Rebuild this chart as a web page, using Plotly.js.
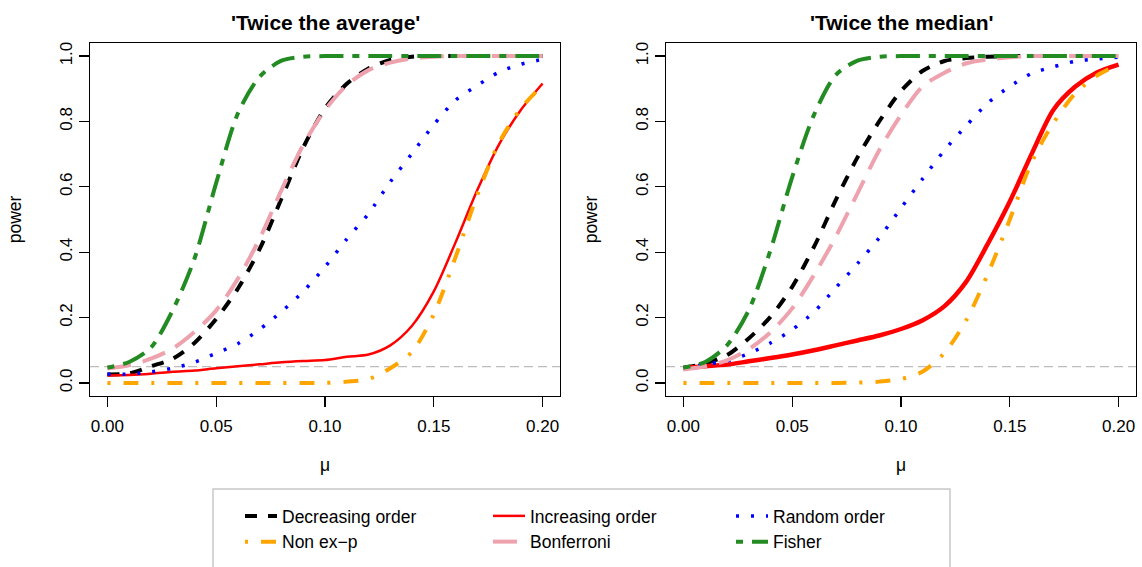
<!DOCTYPE html>
<html>
<head>
<meta charset="utf-8">
<script src="https://cdn.plot.ly/plotly-3.0.1.min.js"></script>
<style>html,body{margin:0;padding:0;background:#fff;}#chart{width:1142px;height:567px;}</style>
</head>
<body>
<div id="chart"></div>
<script>
// ---------- data ----------
const mu = [0, 0.01, 0.02, 0.03, 0.04, 0.05, 0.06, 0.07, 0.08, 0.09, 0.10,
            0.11, 0.12, 0.13, 0.14, 0.15, 0.16, 0.17, 0.18, 0.19, 0.20];

const panelTitles = ["'Twice the average'", "'Twice the median'"];
const seriesNames = ["Decreasing order", "Increasing order", "Random order", "Non ex\u2212p", "Bonferroni", "Fisher"];
const alphaLevel = 0.05;
const xTickVals = [0, 0.05, 0.10, 0.15, 0.20];
const yTickVals = [0, 0.2, 0.4, 0.6, 0.8, 1.0];

// 'Twice the average' panel
const avgDecreasing = [0.026, 0.029, 0.051, 0.074, 0.122, 0.196, 0.289, 0.41, 0.564, 0.72, 0.84, 0.915, 0.962, 0.988, 0.998, 1, 1, 1, 1, 1, 1];
const avgIncreasing = [0.023, 0.024, 0.028, 0.034, 0.038, 0.045, 0.051, 0.057, 0.063, 0.067, 0.07, 0.08, 0.087, 0.115, 0.175, 0.28, 0.43, 0.59, 0.73, 0.835, 0.916];
const avgRandom     = [0.027, 0.027, 0.034, 0.045, 0.063, 0.091, 0.12, 0.164, 0.218, 0.28, 0.355, 0.44, 0.518, 0.615, 0.702, 0.79, 0.865, 0.91, 0.951, 0.975, 0.99];
const avgNonExp     = [0, 0, 0, 0, 0, 0, 0, 0, 0, 0, 0, 0.004, 0.012, 0.045, 0.095, 0.21, 0.385, 0.575, 0.735, 0.84, 0.911];
const avgBonferroni = [0.044, 0.054, 0.074, 0.105, 0.156, 0.222, 0.319, 0.442, 0.59, 0.728, 0.835, 0.911, 0.957, 0.98, 0.993, 0.998, 1, 1, 1, 1, 1];
const avgFisher     = [0.047, 0.064, 0.108, 0.222, 0.38, 0.612, 0.825, 0.937, 0.986, 0.998, 1, 1, 1, 1, 1, 1, 1, 1, 1, 1, 1];

// 'Twice the median' panel
const medDecreasing = [0.046, 0.059, 0.085, 0.136, 0.202, 0.294, 0.416, 0.559, 0.69, 0.80, 0.893, 0.955, 0.985, 0.994, 0.998, 1, 1, 1, 1, 1, 1];
const medIncreasing = [0.046, 0.051, 0.056, 0.066, 0.076, 0.087, 0.1, 0.115, 0.13, 0.145, 0.165, 0.192, 0.235, 0.31, 0.427, 0.555, 0.70, 0.835, 0.906, 0.95, 0.974];
const medRandom     = [0.044, 0.057, 0.067, 0.09, 0.122, 0.163, 0.217, 0.291, 0.365, 0.444, 0.535, 0.625, 0.712, 0.787, 0.857, 0.907, 0.947, 0.967, 0.984, 0.991, 0.997];
const medNonExp     = [0, 0, 0, 0, 0, 0, 0, 0, 0.001, 0.004, 0.012, 0.035, 0.092, 0.192, 0.335, 0.50, 0.675, 0.795, 0.885, 0.94, 0.974];
const medBonferroni = [0.041, 0.051, 0.069, 0.103, 0.155, 0.228, 0.33, 0.447, 0.58, 0.712, 0.82, 0.908, 0.949, 0.978, 0.99, 0.996, 1, 1, 1, 1, 1];
const medFisher     = [0.047, 0.064, 0.115, 0.222, 0.406, 0.63, 0.82, 0.942, 0.986, 0.998, 1, 1, 1, 1, 1, 1, 1, 1, 1, 1, 1];

// ---------- styles ----------
const FONT = 'Liberation Sans, Arial, Helvetica, sans-serif';
const styles = [
  {color: '#000000', dash: '12px,11px', width: 4, legend: 'legend'},
  {color: '#ff0000', dash: 'solid', width: 2.5, legend: 'legend2'},
  {color: '#0000ff', dash: '3px,12px', width: 3.5, legend: 'legend3'},
  {color: '#ffa500', dash: '3px,13px,15px,13px', width: 4, legend: 'legend'},
  {color: '#eea2ad', dash: '24px,12px', width: 4, legend: 'legend2'},
  {color: '#228b22', dash: '7px,9px,24px,9px', width: 4, legend: 'legend3'}
];

const panels = [
  {xa: 'x', ya: 'y', series: [avgDecreasing, avgIncreasing, avgRandom, avgNonExp, avgBonferroni, avgFisher], showlegend: true, redWidth: 2.5},
  {xa: 'x2', ya: 'y2', series: [medDecreasing, medIncreasing, medRandom, medNonExp, medBonferroni, medFisher], showlegend: false, redWidth: 4.5}
];

const traces = [];
panels.forEach(p => {
  p.series.forEach((vals, i) => {
    const st = styles[i];
    traces.push({
      type: 'scatter', mode: 'lines',
      x: mu, y: vals,
      xaxis: p.xa, yaxis: p.ya,
      name: seriesNames[i],
      legend: st.legend,
      showlegend: p.showlegend,
      line: {color: st.color, dash: st.dash, width: i === 1 ? p.redWidth : st.width, shape: 'spline', smoothing: 0.8},
      hoverinfo: 'x+y+name'
    });
  });
});

const W = 1142, H = 567;
const px = v => v / W;
const py = v => 1 - v / H;

function xAxis(domain) {
  return {
    domain: domain, range: [-0.008, 0.208],
    tickvals: xTickVals, tickformat: '.2f',
    ticks: 'outside', ticklen: 10, tickwidth: 1.2, tickcolor: '#000',
    ticklabelstandoff: 4,
    showline: true, mirror: true, linecolor: '#000', linewidth: 1.2,
    showgrid: false, zeroline: false,
    tickfont: {family: FONT, size: 17, color: '#000'},
    title: {text: '\u03bc', font: {family: FONT, size: 17.5, color: '#000'}, standoff: 24}
  };
}
function yAxis(anchor) {
  return {
    domain: [py(396), py(43)], range: [-0.04, 1.04], anchor: anchor,
    tickvals: yTickVals, tickformat: '.1f', tickangle: -90,
    ticks: 'outside', ticklen: 10, tickwidth: 1.2, tickcolor: '#000',
    showline: true, mirror: true, linecolor: '#000', linewidth: 1.2,
    showgrid: false, zeroline: false,
    tickfont: {family: FONT, size: 17, color: '#000'},
    title: {text: 'power', font: {family: FONT, size: 17.5, color: '#000'}, standoff: 30}
  };
}

const legendBase = {
  orientation: 'v', xanchor: 'left', yanchor: 'top',
  y: py(498), bgcolor: 'rgba(0,0,0,0)', borderwidth: 0,
  font: {family: FONT, size: 17.5, color: '#000'}, itemwidth: 32
};

const layout = {
  width: W, height: H,
  margin: {l: 0, r: 0, t: 0, b: 0},
  paper_bgcolor: '#fff', plot_bgcolor: '#fff',
  font: {family: FONT, color: '#000'},
  xaxis: Object.assign(xAxis([px(90), px(560)]), {anchor: 'y'}),
  yaxis: yAxis('x'),
  xaxis2: Object.assign(xAxis([px(666), px(1136)]), {anchor: 'y2'}),
  yaxis2: yAxis('x2'),
  legend: Object.assign({}, legendBase, {x: px(240)}),
  legend2: Object.assign({}, legendBase, {x: px(488)}),
  legend3: Object.assign({}, legendBase, {x: px(731)}),
  annotations: panels.map((p, i) => ({
    text: panelTitles[i], showarrow: false,
    xref: p.xa + ' domain', x: 0.5, xanchor: 'center',
    yref: 'paper', y: py(22), yanchor: 'middle',
    font: {family: FONT, size: 21, color: '#000', weight: 700}
  })),
  shapes: panels.map(p => ({
    type: 'line', xref: p.xa + ' domain', x0: 0, x1: 1,
    yref: p.ya, y0: alphaLevel, y1: alphaLevel,
    line: {color: '#bdbdbd', width: 1.2, dash: '9px,5px'}, layer: 'below'
  })).concat([{
    type: 'rect', xref: 'paper', yref: 'paper',
    x0: px(213), x1: px(950), y0: -0.1, y1: py(489),
    line: {color: '#c8c8c8', width: 1.5}, fillcolor: 'rgba(0,0,0,0)'
  }]),
  showlegend: true
};

Plotly.newPlot('chart', traces, layout, {displayModeBar: false, staticPlot: true});
</script>
</body>
</html>
